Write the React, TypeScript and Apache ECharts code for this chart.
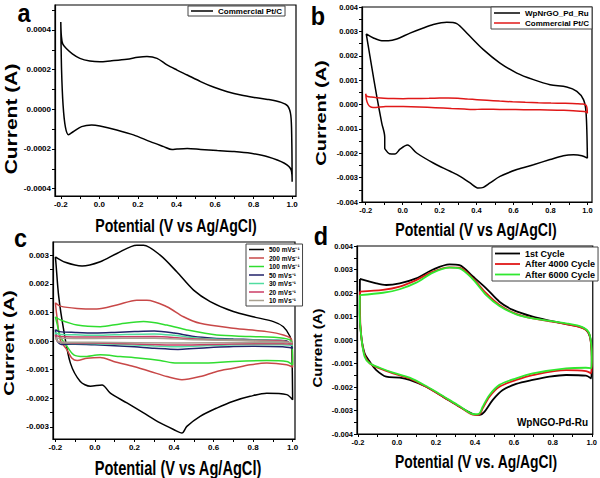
import React, { useEffect, useRef } from 'react';
import * as echarts from 'echarts';

type Pt = [number, number];

const FONT = 'Liberation Sans, Arial, sans-serif';

// Tick values
const xTickLabels = [-0.2, 0.0, 0.2, 0.4, 0.6, 0.8, 1.0];
const xTicks = [-0.2, -0.1, 0.0, 0.1, 0.2, 0.3, 0.4, 0.5, 0.6, 0.7, 0.8, 0.9, 1.0];
const yLabelsA = [-0.0004, -0.0002, 0, 0.0002, 0.0004];
const yTicksA = [-0.0004, -0.0003, -0.0002, -0.0001, 0, 0.0001, 0.0002, 0.0003, 0.0004, 0.0005];
const yLabelsB = [-0.004, -0.003, -0.002, -0.001, 0, 0.001, 0.002, 0.003, 0.004];
const yTicksB = [-0.004, -0.0035, -0.003, -0.0025, -0.002, -0.0015, -0.001, -0.0005, 0, 0.0005, 0.001, 0.0015, 0.002, 0.0025, 0.003, 0.0035, 0.004];
const yLabelsC = [-0.003, -0.002, -0.001, 0, 0.001, 0.002, 0.003];
const yTicksC = [-0.003, -0.0025, -0.002, -0.0015, -0.001, -0.0005, 0, 0.0005, 0.001, 0.0015, 0.002, 0.0025, 0.003];

// Panel a / b: Commercial Pt/C
const ptc: Pt[] = [
  [-0.2, 0.00044], [-0.197, 0.00037], [-0.19, 0.00033], [-0.17, 0.000305], [-0.14, 0.00028],
  [-0.101, 0.000257], [-0.049, 0.000244], [0.003, 0.00024], [0.056, 0.000244], [0.143, 0.000252],
  [0.2, 0.000262], [0.247, 0.000266], [0.299, 0.000257], [0.351, 0.000224], [0.403, 0.000198],
  [0.456, 0.000173], [0.525, 0.00014], [0.595, 0.000111], [0.664, 0.000089], [0.734, 0.000072],
  [0.803, 0.00006], [0.873, 0.00005], [0.943, 0.000035], [0.977, 0.000017], [0.993, -0.00003],
  [0.998, -0.00015], [1.0, -0.000365],
  [0.995, -0.000306], [0.96, -0.000272], [0.873, -0.000239], [0.786, -0.000222], [0.699, -0.000213],
  [0.612, -0.000208], [0.525, -0.000202], [0.456, -0.000197], [0.403, -0.0002], [0.377, -0.000203],
  [0.334, -0.000188], [0.264, -0.000163], [0.177, -0.000129], [0.09, -0.000104], [0.003, -0.000084],
  [-0.04, -0.000079], [-0.092, -0.000087], [-0.136, -0.000113], [-0.16, -0.000128], [-0.176, -0.00009],
  [-0.188, 0.00002], [-0.196, 0.0002], [-0.2, 0.00044],
];

// Panel b: WpNrGO_Pd_Ru
const wpB: Pt[] = [
  [-0.197, 0.0029], [-0.158, 0.00273], [-0.113, 0.00262], [-0.077, 0.00262], [-0.032, 0.00269],
  [0.04, 0.00293], [0.112, 0.00314], [0.166, 0.00328], [0.239, 0.00337], [0.293, 0.00332],
  [0.347, 0.00293], [0.437, 0.00225], [0.527, 0.0017], [0.618, 0.00129], [0.708, 0.00102],
  [0.798, 0.00081], [0.888, 0.00072], [0.943, 0.00054], [0.979, 0.0002], [0.993, -0.00035],
  [1.0, -0.0022],
  [0.97, -0.0021], [0.925, -0.00206], [0.87, -0.0021], [0.798, -0.00226], [0.708, -0.00247],
  [0.618, -0.00267], [0.527, -0.00295], [0.473, -0.00322], [0.437, -0.0034], [0.41, -0.00343],
  [0.365, -0.00322], [0.311, -0.00295], [0.257, -0.00274], [0.166, -0.0024], [0.076, -0.00199],
  [0.026, -0.00166], [-0.014, -0.00183], [-0.041, -0.00203], [-0.072, -0.00202], [-0.095, -0.00183],
  [-0.097, -0.00178], [-0.097, -0.00133], [-0.113, -0.00076], [-0.14, 0.00033], [-0.168, 0.00157],
  [-0.186, 0.00239], [-0.197, 0.0029],
];

// Panel c: scan rates
const c500: Pt[] = [
  [-0.2, 0.00294], [-0.15, 0.00275], [-0.065, 0.00262], [0.027, 0.00277], [0.111, 0.00306],
  [0.212, 0.00335], [0.246, 0.00335], [0.33, 0.003], [0.414, 0.00242], [0.499, 0.00178],
  [0.583, 0.00138], [0.7, 0.00103], [0.8, 0.00085], [0.903, 0.00068], [0.953, 0.0005],
  [0.987, 0.00016], [0.995, -0.0001], [1.0, -0.00205],
  [0.97, -0.00187], [0.869, -0.00182], [0.785, -0.00193], [0.7, -0.0021], [0.616, -0.00234],
  [0.532, -0.00263], [0.465, -0.00298], [0.44, -0.00321], [0.398, -0.00309], [0.33, -0.00286],
  [0.246, -0.00251], [0.162, -0.00216], [0.078, -0.00182], [0.036, -0.00153], [-0.023, -0.00158],
  [-0.074, -0.00141], [-0.124, -0.00077], [-0.158, 0.00039], [-0.183, 0.00155], [-0.197, 0.00271],
  [-0.2, 0.00294],
];
const c200: Pt[] = [
  [-0.2, 0.00134], [-0.175, 0.00122], [-0.09, 0.00114], [0.01, 0.00112], [0.111, 0.00126],
  [0.212, 0.00143], [0.263, 0.00143], [0.364, 0.0012], [0.448, 0.00085], [0.532, 0.00062],
  [0.7, 0.00045], [0.869, 0.00033], [0.953, 0.00021], [0.995, 0.00004], [1.0, -0.00091],
  [0.97, -0.00083], [0.869, -0.00077], [0.785, -0.00083], [0.7, -0.00095], [0.616, -0.00106],
  [0.532, -0.00124], [0.44, -0.00135], [0.364, -0.00124], [0.28, -0.00106], [0.196, -0.00089],
  [0.095, -0.00071], [0.027, -0.00057], [-0.04, -0.0006], [-0.09, -0.00068], [-0.116, -0.0006],
  [-0.141, -0.00031], [-0.175, 0.00004], [-0.192, 0.00085], [-0.2, 0.00134],
];
const c100: Pt[] = [
  [-0.2, 0.00085], [-0.175, 0.00074], [-0.09, 0.00056], [0.027, 0.0005], [0.128, 0.0006],
  [0.246, 0.00068], [0.364, 0.00056], [0.465, 0.00039], [0.616, 0.00021], [0.785, 0.00016],
  [0.953, 0.0001], [0.995, -0.00002], [1.0, -0.00083],
  [0.97, -0.00071], [0.869, -0.00068], [0.7, -0.00071], [0.532, -0.00077], [0.414, -0.00077],
  [0.33, -0.00068], [0.23, -0.0006], [0.128, -0.00054], [0.027, -0.00048], [-0.057, -0.00054],
  [-0.107, -0.00048], [-0.141, -0.00019], [-0.175, 0.00016], [-0.192, 0.00062], [-0.2, 0.00085],
];
const c50: Pt[] = [
  [-0.2, 0.0004], [-0.18, 0.00033], [-0.1, 0.0003], [0.0, 0.00028], [0.1, 0.0003], [0.2, 0.00033],
  [0.3, 0.00035], [0.4, 0.00028], [0.5, 0.00016], [0.6, 0.0001], [0.7, 0.00007], [0.8, 0.00005],
  [0.9, 0.00003], [0.97, 0.0], [1.0, -0.00025],
  [0.95, -0.0002], [0.8, -0.00018], [0.7, -0.00019], [0.6, -0.00022], [0.5, -0.00026], [0.42, -0.00029],
  [0.3, -0.00025], [0.2, -0.0002], [0.1, -0.00016], [0.0, -0.00013], [-0.1, -0.00011], [-0.17, -0.00012],
  [-0.19, 0.0], [-0.2, 0.0004],
];
const c30: Pt[] = [
  [-0.2, 0.0003], [-0.18, 0.00024], [-0.1, 0.00022], [0.0, 0.0002], [0.1, 0.00022], [0.3, 0.00025],
  [0.4, 0.0002], [0.5, 0.00012], [0.6, 0.00007], [0.8, 0.00004], [0.95, 0.00001], [1.0, -0.00015],
  [0.95, -0.00013], [0.8, -0.00012], [0.6, -0.00015], [0.42, -0.0002], [0.3, -0.00017], [0.1, -0.00011],
  [0.0, -0.00009], [-0.15, -0.00008], [-0.19, 0.0], [-0.2, 0.0003],
];
const c20: Pt[] = [
  [-0.2, 0.00022], [-0.18, 0.00016], [0.0, 0.00014], [0.3, 0.00016], [0.45, 0.0001], [0.6, 0.00005],
  [0.8, 0.00002], [0.95, 0.0], [1.0, -0.0001],
  [0.95, -0.00009], [0.7, -0.0001], [0.42, -0.00014], [0.2, -0.0001], [0.0, -0.00007], [-0.15, -0.00006],
  [-0.19, 0.0], [-0.2, 0.00022],
];
const c10: Pt[] = [
  [-0.2, 0.00012], [-0.18, 0.0001], [0.0, 0.00009], [0.3, 0.0001], [0.5, 0.00005], [0.8, 0.00001],
  [1.0, -0.00005],
  [0.8, -0.00005], [0.42, -0.00007], [0.0, -0.00004], [-0.18, -0.00003], [-0.2, 0.00012],
];

// Panel d: cycling stability
const d1: Pt[] = [
  [-0.19, 0.0026], [-0.106, 0.00241], [-0.055, 0.00234], [0.014, 0.00241], [0.099, 0.00262],
  [0.185, 0.003], [0.27, 0.00322], [0.321, 0.00319], [0.39, 0.0027], [0.458, 0.0022],
  [0.526, 0.00163], [0.595, 0.00128], [0.697, 0.00099], [0.783, 0.00082], [0.868, 0.00068],
  [0.937, 0.00057], [0.971, 0.00043], [0.991, 0.00014], [1.0, -0.00071], [0.997, -0.00163],
  [0.97, -0.00152], [0.868, -0.00149], [0.783, -0.00156], [0.697, -0.0017], [0.612, -0.00187],
  [0.543, -0.00213], [0.492, -0.00255], [0.45, -0.00305], [0.424, -0.00319], [0.39, -0.00315],
  [0.321, -0.00284], [0.236, -0.00241], [0.15, -0.00199], [0.065, -0.0017], [0.014, -0.0016],
  [-0.055, -0.00156], [-0.106, -0.00128], [-0.14, -0.00092], [-0.166, -0.00057], [-0.183, 0.00014],
  [-0.191, 0.00113], [-0.19, 0.0026],
];
const d4000: Pt[] = [
  [-0.19, 0.00206], [-0.072, 0.00213], [0.014, 0.00227], [0.099, 0.00255], [0.185, 0.00291],
  [0.27, 0.00309], [0.321, 0.00308], [0.39, 0.00262], [0.458, 0.00199], [0.526, 0.00149],
  [0.612, 0.00111], [0.697, 0.00092], [0.868, 0.00068], [0.954, 0.0005], [0.988, 0.00021],
  [1.0, -0.00085], [0.997, -0.00142],
  [0.97, -0.00132], [0.868, -0.00128], [0.697, -0.00149], [0.612, -0.0017], [0.526, -0.00199],
  [0.475, -0.00241], [0.44, -0.00291], [0.424, -0.00316], [0.398, -0.00319], [0.321, -0.00284],
  [0.236, -0.00241], [0.15, -0.00199], [0.065, -0.00163], [-0.02, -0.00142], [-0.089, -0.00121],
  [-0.14, -0.00099], [-0.166, -0.00064], [-0.183, 0.00014], [-0.19, 0.00142], [-0.19, 0.00206],
];
const d6000: Pt[] = [
  [-0.19, 0.00191], [-0.072, 0.00201], [0.014, 0.00216], [0.099, 0.00244], [0.185, 0.00287],
  [0.27, 0.00308], [0.321, 0.00305], [0.39, 0.00258], [0.458, 0.00191], [0.526, 0.00145],
  [0.612, 0.00109], [0.697, 0.00092], [0.868, 0.00071], [0.954, 0.00054], [0.988, 0.00026],
  [1.0, -0.00071], [0.998, -0.0012],
  [0.97, -0.00118], [0.868, -0.00121], [0.697, -0.00142], [0.612, -0.00163], [0.526, -0.00191],
  [0.475, -0.00234], [0.44, -0.00284], [0.424, -0.00312], [0.398, -0.00316], [0.321, -0.00281],
  [0.236, -0.00238], [0.15, -0.00196], [0.065, -0.0016], [-0.02, -0.00139], [-0.089, -0.00118],
  [-0.14, -0.00099], [-0.166, -0.00071], [-0.183, 0.00014], [-0.191, 0.00113], [-0.19, 0.00191],
];

const cRates = ['500', '200', '100', '50', '30', '20', '10'];
const cData = [c500, c200, c100, c50, c30, c20, c10];
const cColors = ['#000000', '#c84848', '#30dd30', '#22226a', '#50dda0', '#cc3d66', '#a8a090'];

function xAxis(gi: number, min: number, max: number, fs: number) {
  return {
    type: 'value', gridIndex: gi, min, max,
    axisLine: { show: true, onZero: false, lineStyle: { color: '#000', width: 1.2 } },
    axisTick: { show: true, inside: false, length: 3, customValues: xTicks, lineStyle: { color: '#000', width: 1 } },
    axisLabel: { customValues: xTickLabels, formatter: (v: number) => v.toFixed(1), fontSize: fs, fontWeight: 'bold', color: '#000', margin: 4, fontFamily: FONT },
    splitLine: { show: false },
  };
}
function yAxis(gi: number, min: number, max: number, ticks: number[], labels: number[], dec: number, fs: number) {
  return {
    type: 'value', gridIndex: gi, min, max,
    axisLine: { show: true, onZero: false, lineStyle: { color: '#000', width: 1.2 } },
    axisTick: { show: true, inside: false, length: 3, customValues: ticks, lineStyle: { color: '#000', width: 1 } },
    axisLabel: { customValues: labels, formatter: (v: number) => v.toFixed(dec), fontSize: fs, fontWeight: 'bold', color: '#000', margin: 4, fontFamily: FONT },
    splitLine: { show: false },
  };
}
function line(name: string, data: Pt[], color: string, gi: number, width = 1.5) {
  return {
    type: 'line', name, data, xAxisIndex: gi, yAxisIndex: gi,
    symbol: 'none', showSymbol: false, smooth: 0.3, silent: true,
    lineStyle: { color, width }, itemStyle: { color },
  };
}
function label(text: string, x: number, y: number, fs: number, sx: number, rot = false) {
  return {
    type: 'text', x, y, rotation: rot ? Math.PI / 2 : 0,
    scaleX: rot ? 1 : sx, scaleY: rot ? sx : 1,
    style: { text, font: `bold ${fs}px ${FONT}`, fill: '#000', align: 'center', verticalAlign: 'middle' },
  };
}

export default function App() {
  const ref = useRef<HTMLDivElement>(null);
  useEffect(() => {
    if (!ref.current) return;
    const chart = echarts.init(ref.current, undefined, { renderer: 'svg' });
    const legendBase = {
      orient: 'vertical', selectedMode: false, borderColor: '#444', borderWidth: 1, backgroundColor: '#fff',
      borderRadius: 0, itemGap: 1, align: 'left', icon: 'rect',
      textStyle: { fontWeight: 'bold', color: '#000', fontFamily: FONT, fontSize: 8 },
      formatter: (n: string) => n.split('|')[1],
    };
    chart.setOption({
      animation: false,
      backgroundColor: '#fff',
      grid: [
        { left: 55, top: 5, width: 241, height: 191, show: true, borderColor: '#000', borderWidth: 1.2 },
        { left: 362, top: 7, width: 230, height: 195, show: true, borderColor: '#000', borderWidth: 1.2 },
        { left: 53, top: 242, width: 242, height: 197, show: true, borderColor: '#000', borderWidth: 1.2 },
        { left: 357, top: 246, width: 236, height: 188, show: true, borderColor: '#000', borderWidth: 1.2 },
      ],
      xAxis: [
        xAxis(0, -0.23, 1.02, 8),
        xAxis(1, -0.22, 1.025, 7.5),
        xAxis(2, -0.212, 1.012, 8),
        xAxis(3, -0.205, 1.005, 7.5),
      ],
      yAxis: [
        yAxis(0, -0.000437, 0.000526, yTicksA, yLabelsA, 4, 8),
        yAxis(1, -0.004, 0.004, yTicksB, yLabelsB, 3, 7.5),
        yAxis(2, -0.00342, 0.00346, yTicksC, yLabelsC, 3, 8),
        yAxis(3, -0.004, 0.004, yTicksB, yLabelsB, 3, 7.5),
      ],
      legend: [
        { ...legendBase, left: 188, top: 6, padding: [1, 3, 1, 3], itemWidth: 22, itemHeight: 1.5, data: ['a|Commercial Pt/C'] },
        { ...legendBase, left: 491, top: 7, padding: [2, 3, 2, 3], itemWidth: 26, itemHeight: 1.5, itemGap: 2, data: ['b|WpNrGO_Pd_Ru', 'b|Commercial Pt/C'] },
        {
          ...legendBase, left: 246, top: 244, padding: [2, 3, 2, 3], itemWidth: 15, itemHeight: 1.5, itemGap: 1.5,
          textStyle: { ...legendBase.textStyle, fontSize: 6.5 },
          data: cRates.map((r) => `c|${r} mVs⁻¹`),
        },
        {
          ...legendBase, left: 492, top: 247, padding: [2, 3, 2, 3], itemWidth: 25, itemHeight: 1.8, itemGap: 1.5,
          textStyle: { ...legendBase.textStyle, fontSize: 9 },
          data: ['d|1st Cycle', 'd|After 4000 Cycle', 'd|After 6000 Cycle'],
        },
      ],
      series: [
        line('a|Commercial Pt/C', ptc, '#000', 0),
        line('b|WpNrGO_Pd_Ru', wpB, '#000', 1),
        line('b|Commercial Pt/C', ptc, '#e01818', 1),
        ...cData.map((d, i) => line(`c|${cRates[i]} mVs⁻¹`, d, cColors[i], 2)),
        line('d|1st Cycle', d1, '#000', 3, 1.8),
        line('d|After 4000 Cycle', d4000, '#e01818', 3, 1.8),
        line('d|After 6000 Cycle', d6000, '#30e830', 3, 1.8),
      ],
      graphic: [
        label('a', 24, 13, 26, 0.9),
        label('b', 318, 16, 26, 0.9),
        label('c', 20.5, 238, 26, 0.9),
        label('d', 321, 236, 26, 0.9),
        label('Potential (V vs Ag/AgCl)', 176, 226, 19, 0.745),
        label('Potential (V vs Ag/AgCl)', 476, 230, 19, 0.745),
        label('Potential (V vs Ag/AgCl)', 178, 468, 19.5, 0.75),
        label('Potential (V vs. Ag/AgCl)', 476, 462, 19, 0.73),
        label('Current (A)', 11, 119, 21, 0.75, true),
        label('Current (A)', 321, 113, 20, 0.75, true),
        label('Current (A)', 9, 343, 20, 0.75, true),
        label('Current (A)', 317.5, 348, 15, 0.9, true),
        {
          type: 'text', x: 588, y: 422,
          style: { text: 'WpNGO-Pd-Ru', font: `bold 10px ${FONT}`, fill: '#000', align: 'right', verticalAlign: 'middle' },
        },
      ],
    });
    return () => chart.dispose();
  }, []);
  return <div ref={ref} style={{ position: 'fixed', left: 0, top: 0, width: 600, height: 478, background: '#fff' }} />;
}
